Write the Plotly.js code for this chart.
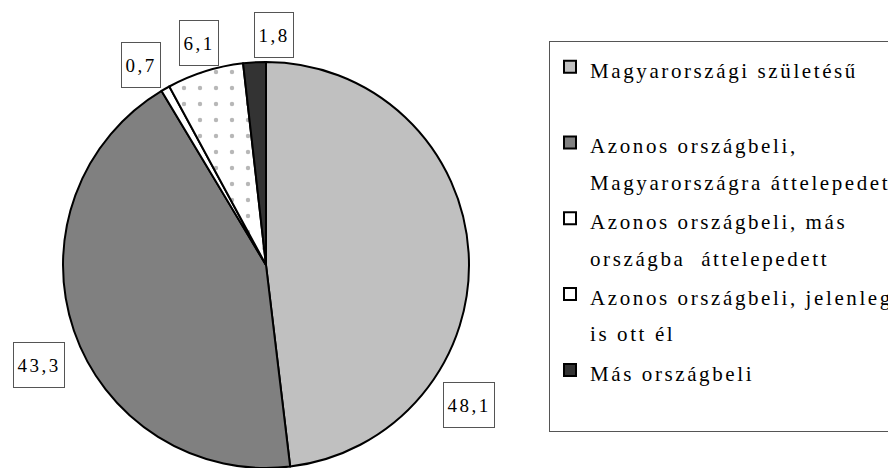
<!DOCTYPE html>
<html>
<head>
<meta charset="utf-8">
<script src="https://cdn.plot.ly/plotly-3.0.1.min.js"></script>
<style>
  html, body { margin: 0; padding: 0; background: #ffffff; }
  #chart { width: 888px; height: 468px; }
  #chart text, #chart tspan { font-family: 'Liberation Serif', 'Times New Roman', serif !important; }
</style>
</head>
<body>
<div id="chart"></div>
<script>
// ---- data ----
var categories = [
  "Magyarországi születésű<br>\u00a0",
  "Azonos országbeli,<br>Magyarországra áttelepedett",
  "Azonos országbeli, más<br>országba\u00a0 áttelepedett",
  "Azonos országbeli, jelenleg<br>is ott él",
  "Más országbeli<br>\u00a0"
];
var shares = [48.1, 43.3, 0.7, 6.1, 1.8];

// ---- styling ----
var sliceColors = ["#c0c0c0", "#808080", "#ffffff", "#ffffff", "#333333"];
var slicePatterns = ["", "", "", ".", ""];
var FONT = "Liberation Serif";

function wrapLines(label, style) {
  return label.split("<br>").map(function (s) {
    return '<span style="' + style + '">' + s + '</span>';
  }).join("<br>");
}
var legendLabels = categories.map(function (c) {
  return wrapLines(c, "font-size:21px;letter-spacing:2.6px");
});

function fmt(v) { return v.toFixed(1).replace(".", ","); }

// label box centres in pixels (layout only)
var labelBoxes = [
  { cx: 469, cy: 405, w: 48 },
  { cx: 38.5, cy: 365, w: 48 },
  { cx: 141, cy: 65, w: 36 },
  { cx: 199, cy: 43, w: 36 },
  { cx: 274, cy: 35, w: 36 }
];
var W = 888, H = 468;

var annotations = shares.map(function (v, i) {
  var b = labelBoxes[i];
  return {
    xref: "paper", yref: "paper",
    x: b.cx / W, y: 1 - b.cy / H,
    xanchor: "center", yanchor: "middle",
    text: '<span style="letter-spacing:2.5px">' + fmt(v) + '</span>',
    showarrow: false,
    font: { family: FONT, size: 19, color: "#000000" },
    bordercolor: "#555555", borderwidth: 1, borderpad: 1,
    bgcolor: "#ffffff",
    width: b.w, height: 42
  };
});

var trace = {
  type: "pie",
  labels: legendLabels,
  values: shares,
  sort: false,
  direction: "clockwise",
  rotation: 0,
  textinfo: "none",
  hoverinfo: "label+value",
  marker: {
    colors: sliceColors,
    line: { color: "#000000", width: 2 },
    pattern: {
      shape: slicePatterns,
      fgcolor: "#707070",
      size: 16,
      solidity: 0.06,
      fillmode: "overlay"
    }
  },
  domain: { x: [63 / W, 469 / W], y: [0 / H, 1 - 62 / H] }
};

var layout = {
  width: W, height: H,
  margin: { l: 0, r: 0, t: 0, b: 0, autoexpand: false },
  paper_bgcolor: "#ffffff",
  plot_bgcolor: "#ffffff",
  font: { family: FONT, color: "#000000" },
  showlegend: true,
  legend: {
    x: 549 / W, y: 1 - 41 / H,
    xanchor: "left", yanchor: "top",
    orientation: "v",
    valign: "top",
    bgcolor: "#ffffff",
    bordercolor: "#555555",
    borderwidth: 1,
    font: { family: FONT, size: 28, color: "#000000" },
    traceorder: "normal"
  },
  annotations: annotations
};

Plotly.newPlot("chart", [trace], layout, { staticPlot: true, displayModeBar: false });
</script>
</body>
</html>
